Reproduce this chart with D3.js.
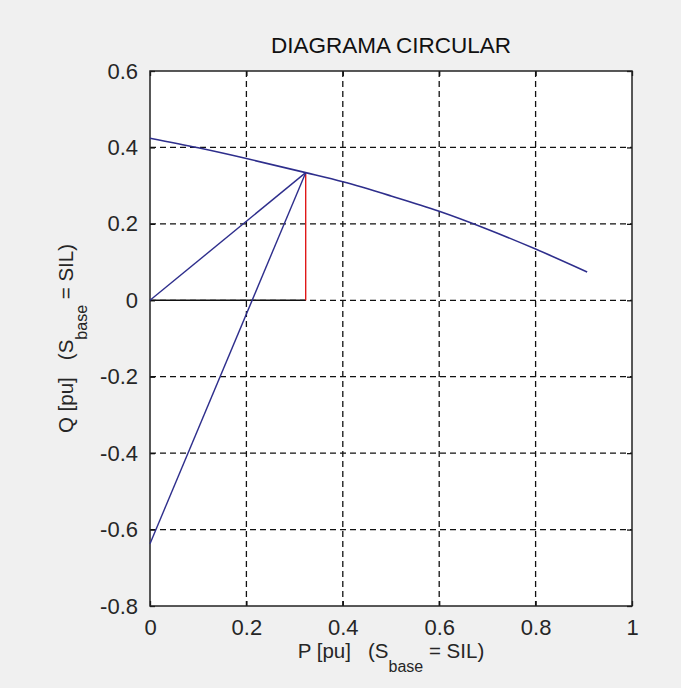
<!DOCTYPE html>
<html>
<head>
<meta charset="utf-8">
<script src="https://cdn.jsdelivr.net/npm/d3@7"></script>
<style>
  body { margin: 0; background: #f0f0f0; }
  svg { display: block; font-family: "Liberation Sans", Arial, sans-serif; }
</style>
</head>
<body>
<script>
// circle arc (P, Q in pu)
var arcP = [0, 0.1, 0.2, 0.323, 0.4, 0.5, 0.6, 0.7, 0.8, 0.907];
var arcQ = [0.424, 0.399, 0.371, 0.334, 0.310, 0.273, 0.233, 0.186, 0.134, 0.074];

// operating point and circle centre
var opP = 0.323, opQ = 0.334;
var centreP = 0, centreQ = -0.637;

var xTicks = [0, 0.2, 0.4, 0.6, 0.8, 1];
var yTicks = [0.6, 0.4, 0.2, 0, -0.2, -0.4, -0.6, -0.8];
var xTickLabels = ['0', '0.2', '0.4', '0.6', '0.8', '1'];
var yTickLabels = ['0.6', '0.4', '0.2', '0', '-0.2', '-0.4', '-0.6', '-0.8'];

var width = 681, height = 688;
var margin = {top: 71, right: 49, bottom: 82, left: 150};
var blue = '#2e2e8c';

var svg = d3.select('body').append('svg')
  .attr('width', width)
  .attr('height', height);

svg.append('rect')
  .attr('width', width)
  .attr('height', height)
  .attr('fill', '#f0f0f0');

var xScale = d3.scaleLinear()
  .domain([0, 1])
  .range([margin.left, width - margin.right]);

var yScale = d3.scaleLinear()
  .domain([-0.8, 0.6])
  .range([height - margin.bottom, margin.top]);

// axes area
svg.append('rect')
  .attr('x', xScale(0))
  .attr('y', yScale(0.6))
  .attr('width', xScale(1) - xScale(0))
  .attr('height', yScale(-0.8) - yScale(0.6))
  .attr('fill', '#fff');

// dashed grid
var grid = svg.append('g')
  .attr('stroke', '#111')
  .attr('stroke-width', 1.3)
  .attr('stroke-dasharray', '6,4');

grid.selectAll('.vgrid')
  .data(xTicks.slice(1, -1))
  .enter()
  .append('line')
  .attr('x1', function(d) { return xScale(d); })
  .attr('x2', function(d) { return xScale(d); })
  .attr('y1', yScale(0.6))
  .attr('y2', yScale(-0.8));

grid.selectAll('.hgrid')
  .data(yTicks.slice(1, -1))
  .enter()
  .append('line')
  .attr('x1', xScale(0))
  .attr('x2', xScale(1))
  .attr('y1', function(d) { return yScale(d); })
  .attr('y2', function(d) { return yScale(d); });

// axes with inward ticks, labels drawn by d3
var xAxis = d3.axisBottom(xScale)
  .tickValues(xTicks)
  .tickFormat(function(d, i) { return xTickLabels[i]; })
  .tickSizeInner(-5)
  .tickSizeOuter(0)
  .tickPadding(13);

var yAxis = d3.axisLeft(yScale)
  .tickValues(yTicks)
  .tickFormat(function(d, i) { return yTickLabels[i]; })
  .tickSizeInner(-5)
  .tickSizeOuter(0)
  .tickPadding(12);

var gx = svg.append('g')
  .attr('transform', 'translate(0,' + yScale(-0.8) + ')')
  .call(xAxis);

var gy = svg.append('g')
  .attr('transform', 'translate(' + xScale(0) + ',0)')
  .call(yAxis);

// ticks on top and right too
svg.append('g')
  .attr('transform', 'translate(0,' + yScale(0.6) + ')')
  .call(d3.axisTop(xScale).tickValues(xTicks).tickSizeInner(-5).tickSizeOuter(0).tickFormat(''));
svg.append('g')
  .attr('transform', 'translate(' + xScale(1) + ',0)')
  .call(d3.axisRight(yScale).tickValues(yTicks).tickSizeInner(-5).tickSizeOuter(0).tickFormat(''));

svg.selectAll('.domain').remove();
svg.selectAll('.tick line').attr('stroke', '#111').attr('stroke-width', 1.3);

gx.selectAll('text')
  .attr('font-size', '22px')
  .attr('font-family', '"Liberation Sans", Arial, sans-serif')
  .attr('fill', '#262626');
gy.selectAll('text')
  .attr('font-size', '22px')
  .attr('font-family', '"Liberation Sans", Arial, sans-serif')
  .attr('fill', '#262626');

// box
svg.append('rect')
  .attr('x', xScale(0))
  .attr('y', yScale(0.6))
  .attr('width', xScale(1) - xScale(0))
  .attr('height', yScale(-0.8) - yScale(0.6))
  .attr('fill', 'none')
  .attr('stroke', '#222')
  .attr('stroke-width', 1.5);

// the lines
var line = d3.line()
  .x(function(d) { return xScale(d[0]); })
  .y(function(d) { return yScale(d[1]); });

var arcLine = d3.line()
  .x(function(d) { return xScale(d[0]); })
  .y(function(d) { return yScale(d[1]); })
  .curve(d3.curveMonotoneX);

var arc = arcP.map(function(p, i) { return [p, arcQ[i]]; });

svg.append('path')
  .attr('d', line([[0, 0], [opP, 0]]))
  .attr('fill', 'none')
  .attr('stroke', '#111')
  .attr('stroke-width', 1.4);

svg.append('path')
  .attr('d', line([[opP, 0], [opP, opQ]]))
  .attr('fill', 'none')
  .attr('stroke', '#e01818')
  .attr('stroke-width', 1.4);

svg.append('path')
  .attr('d', line([[0, 0], [opP, opQ]]))
  .attr('fill', 'none')
  .attr('stroke', blue)
  .attr('stroke-width', 1.4);

svg.append('path')
  .attr('d', line([[centreP, centreQ], [opP, opQ]]))
  .attr('fill', 'none')
  .attr('stroke', blue)
  .attr('stroke-width', 1.4);

svg.append('path')
  .attr('d', arcLine(arc))
  .attr('fill', 'none')
  .attr('stroke', blue)
  .attr('stroke-width', 1.6);

// title
svg.append('text')
  .attr('x', (xScale(0) + xScale(1)) / 2)
  .attr('y', 53)
  .attr('text-anchor', 'middle')
  .attr('font-size', '22.5px')
  .attr('fill', '#111')
  .text('DIAGRAMA CIRCULAR');

// x label with subscript
var xl = svg.append('text')
  .attr('x', (xScale(0) + xScale(1)) / 2)
  .attr('y', 658)
  .attr('text-anchor', 'middle')
  .attr('font-size', '20.5px')
  .attr('fill', '#262626')
  .style('white-space', 'pre');
xl.append('tspan').text('P [pu]   (S');
xl.append('tspan').attr('font-size', '16px').attr('dy', 14).text('base');
xl.append('tspan').attr('dy', -14).text(' = SIL)');

// y label with subscript
var yl = svg.append('text')
  .attr('transform', 'translate(73,' + ((yScale(0.6) + yScale(-0.8)) / 2) + ') rotate(-90)')
  .attr('text-anchor', 'middle')
  .attr('font-size', '20.5px')
  .attr('fill', '#262626')
  .style('white-space', 'pre');
yl.append('tspan').text('Q [pu]   (S');
yl.append('tspan').attr('font-size', '16px').attr('dy', 14).text('base');
yl.append('tspan').attr('dy', -14).text(' = SIL)');
</script>
</body>
</html>
